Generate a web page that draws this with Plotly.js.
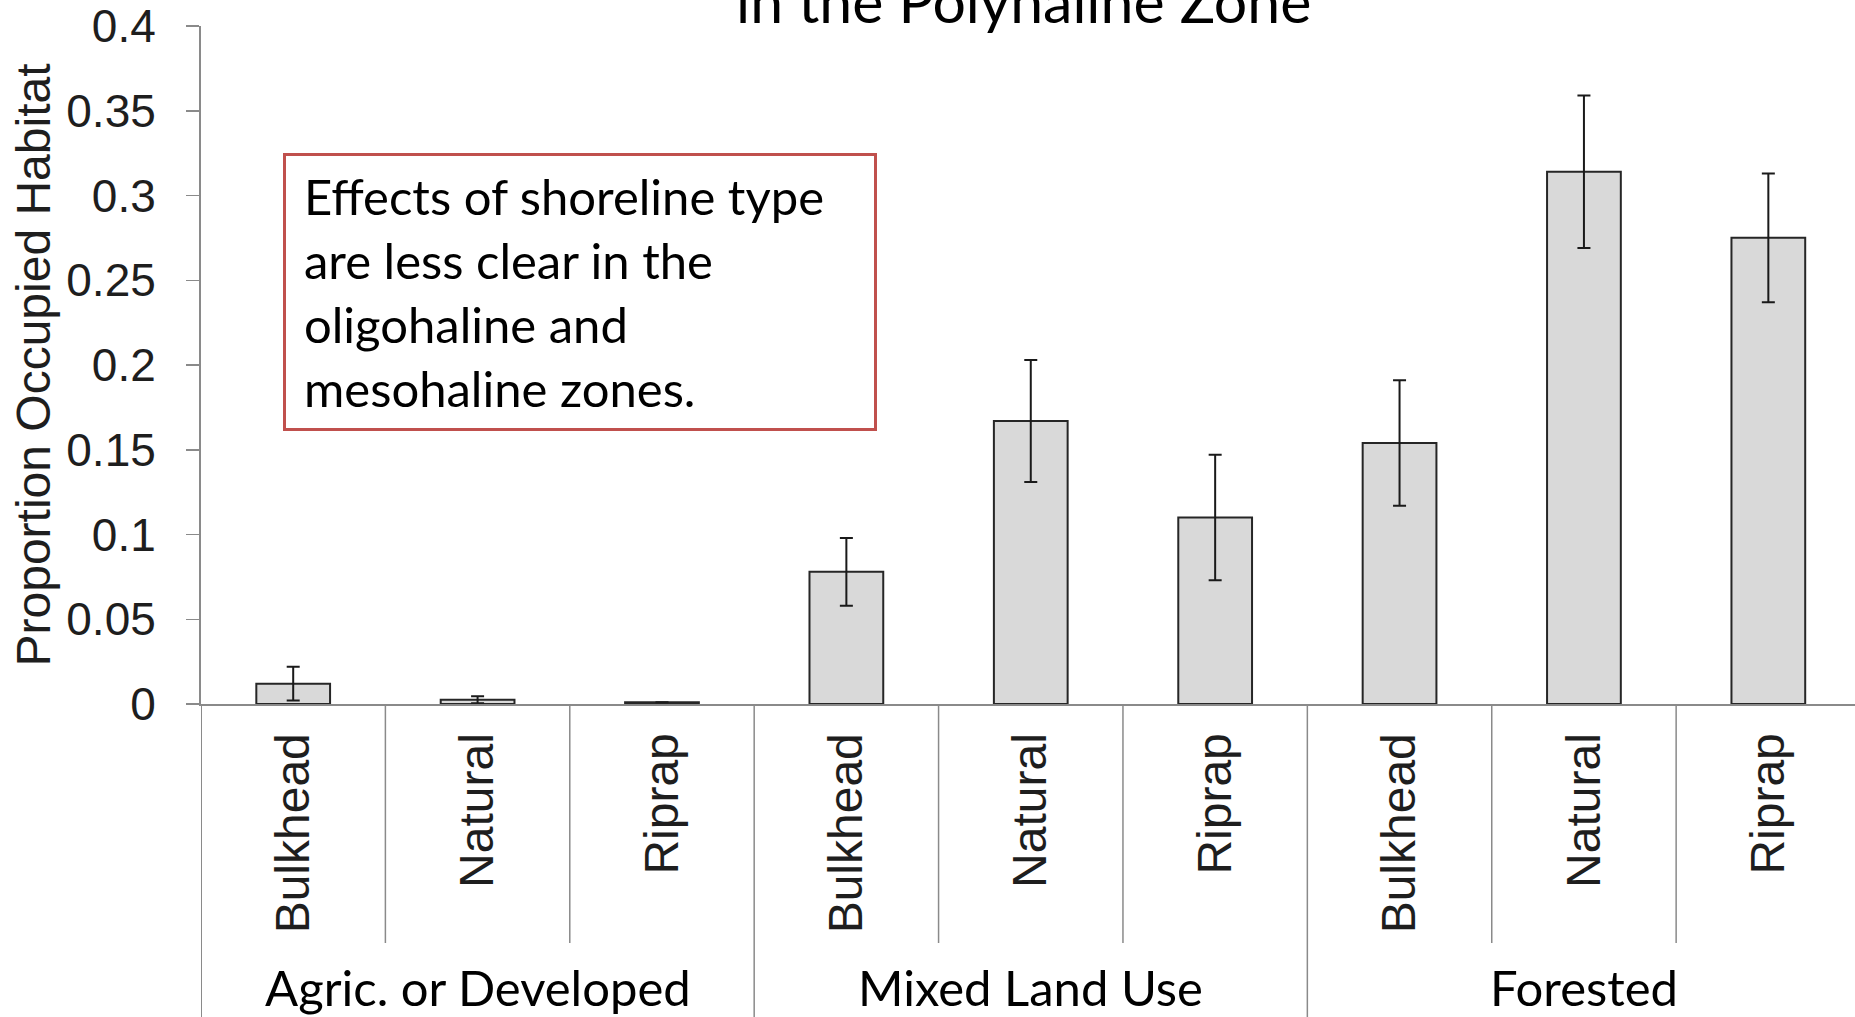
<!DOCTYPE html>
<html>
<head>
<meta charset="utf-8">
<script src="https://cdn.plot.ly/plotly-3.0.1.min.js"></script>
<style>
  html, body { margin: 0; padding: 0; background: #fff; overflow: hidden; }
  #plot { width: 1855px; height: 1017px; }
</style>
</head>
<body>
<div id="plot"></div>
<script>
var landUse = ["Agric. or Developed", "Mixed Land Use", "Forested"];
var shoreType = ["Bulkhead", "Natural", "Riprap"];
// proportion of occupied habitat, one value per land use x shoreline type
var proportion = [0.012, 0.0025, 0.001, 0.078, 0.167, 0.110, 0.154, 0.314, 0.275];
var stdErr = [0.010, 0.002, 0, 0.020, 0.036, 0.037, 0.037, 0.045, 0.038];
var titleText = "in the Polyhaline Zone";
var noteText = "Effects of shoreline type<br>are less clear in the<br>oligohaline and<br>mesohaline zones.";

var axisGrey = "#8a8a8a";
var textDark = "#1e1e1e";
var sansA = "Liberation Sans, Arial, sans-serif";
var sansB = "Lato, Open Sans, sans-serif";

// one slot per bar, in order
var xPos = [];
var xText = [];
for (var g = 0; g < landUse.length; g++) {
  for (var s = 0; s < shoreType.length; s++) {
    xPos.push(g * shoreType.length + s);
    xText.push(shoreType[s]);
  }
}

var data = [{
  type: "bar",
  x: xPos,
  y: proportion,
  width: 0.4,
  marker: {color: "#d9d9d9", line: {color: "#262626", width: 2}},
  error_y: {type: "data", array: stdErr, visible: true, color: "#1a1a1a", thickness: 2, width: 6.5},
  hoverinfo: "skip"
}];

// separators below the x axis
var shapes = [];
for (var i = 0; i < xPos.length - 1; i++) {
  var groupEdge = (i + 1) % shoreType.length == 0;
  shapes.push({
    type: "line", xref: "x", yref: "paper",
    x0: xPos[i] + 0.5, x1: xPos[i] + 0.5,
    y0: 0, y1: groupEdge ? -0.5 : -0.3525,
    line: {color: axisGrey, width: 1.5}
  });
}
shapes.push({
  type: "line", xref: "x", yref: "paper",
  x0: -0.5, x1: -0.5, y0: 0, y1: -0.5,
  line: {color: axisGrey, width: 2}
});

var annotations = [];
for (var g = 0; g < landUse.length; g++) {
  annotations.push({
    xref: "x", yref: "paper",
    x: xPos[g * shoreType.length + 1], y: -0.4175,
    text: landUse[g], showarrow: false,
    xanchor: "center", yanchor: "middle",
    font: {family: sansB, size: 49, color: "#000"}
  });
}
annotations.push({
  xref: "paper", yref: "paper",
  x: (1023 - 201) / 1654, y: 1.037,
  text: titleText, showarrow: false,
  xanchor: "center", yanchor: "middle",
  font: {family: sansB, size: 59, color: "#000"}
});
annotations.push({
  xref: "paper", yref: "paper",
  x: (283 - 201) / 1654, y: (704 - 153) / 678,
  xanchor: "left", yanchor: "top",
  text: noteText, showarrow: false, align: "left", valign: "middle",
  width: 552, height: 236,
  bordercolor: "#c0504d", borderwidth: 3, borderpad: 18,
  bgcolor: "#fff",
  font: {family: sansB, size: 49, color: "#000"}
});

var layout = {
  width: 1855,
  height: 1017,
  margin: {l: 201, r: 0, t: 26, b: 313},
  paper_bgcolor: "#fff",
  plot_bgcolor: "#fff",
  showlegend: false,
  bargap: 0.6,
  xaxis: {
    range: [-0.5, 8.47],
    tickmode: "array",
    tickvals: xPos,
    ticktext: xText,
    tickangle: -90,
    ticks: "",
    ticklabelstandoff: 8,
    tickfont: {family: sansA, size: 48, color: textDark},
    showgrid: false,
    zeroline: false,
    showline: true,
    linecolor: axisGrey,
    linewidth: 2
  },
  yaxis: {
    range: [0, 0.4],
    dtick: 0.05,
    ticks: "outside",
    ticklen: 13,
    tickwidth: 1.5,
    tickcolor: axisGrey,
    ticklabelstandoff: 21,
    tickfont: {family: sansA, size: 46, color: textDark},
    showgrid: false,
    zeroline: false,
    showline: true,
    linecolor: axisGrey,
    linewidth: 2,
    title: {
      text: "Proportion Occupied Habitat",
      standoff: 0,
      font: {family: sansA, size: 48, color: textDark}
    }
  },
  shapes: shapes,
  annotations: annotations
};

Plotly.newPlot("plot", data, layout, {displayModeBar: false, staticPlot: true});
</script>
</body>
</html>
